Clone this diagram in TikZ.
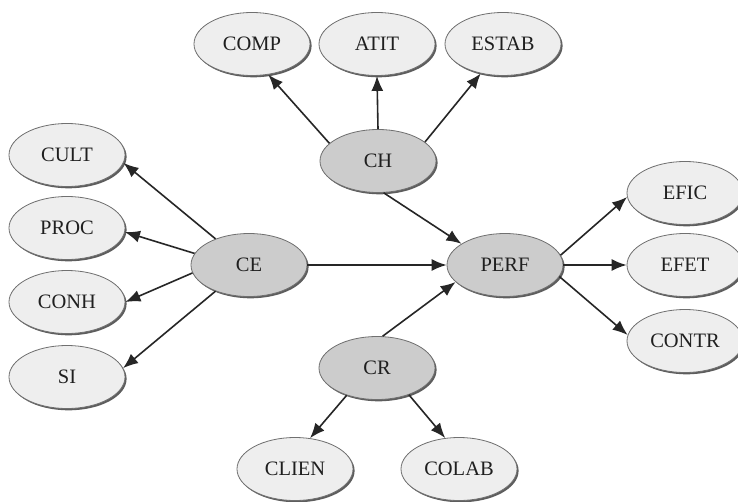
\documentclass[tikz,border=0pt]{standalone}
\usepackage{fontspec}
\setmainfont{Liberation Serif}
\usetikzlibrary{shapes.geometric,arrows.meta,shadows}
\definecolor{lightfill}{HTML}{EEEEEE}
\definecolor{darkfill}{HTML}{CCCCCC}
\definecolor{edgecol}{HTML}{262626}
\definecolor{rimcol}{HTML}{707070}
\tikzset{
  oval/.style={ellipse, draw=rimcol, line width=0.8pt, minimum width=116pt, minimum height=63pt, inner sep=0pt,
    font=\fontsize{20.5}{23}\selectfont, text=black!88,
    drop shadow={shadow xshift=1.6pt, shadow yshift=-1.8pt, fill=black!70, opacity=0.9}},
  leaf/.style={oval, fill=lightfill},
  hub/.style={oval, fill=darkfill},
  arr/.style={draw=edgecol, line width=1.6pt, -{Latex[length=15pt,width=12pt]}}
}
\begin{document}
\begin{tikzpicture}[x=1pt,y=-1pt]
\useasboundingbox[fill=white] (0,0) rectangle (738,501);
\node[leaf] (COMP) at (252,44) {COMP};
\node[leaf] (ATIT) at (377,44) {ATIT};
\node[leaf] (ESTAB) at (503,44) {ESTAB};
\node[hub] (CH) at (378,161) {CH};
\node[leaf] (CULT) at (67,155) {CULT};
\node[leaf] (PROC) at (67,228) {PROC};
\node[leaf] (CONH) at (67,302) {CONH};
\node[leaf] (SI) at (67,377) {SI};
\node[hub] (CE) at (249,265) {CE};
\node[hub] (PERF) at (505,265) {PERF};
\node[leaf] (EFIC) at (685,193) {EFIC};
\node[leaf] (EFET) at (685,265) {EFET};
\node[leaf] (CONTR) at (685,341) {CONTR};
\node[hub] (CR) at (377,368) {CR};
\node[leaf] (CLIEN) at (295,469) {CLIEN};
\node[leaf] (COLAB) at (459,469) {COLAB};

\draw[arr] (CH.160) -- (COMP.-62);
\draw[arr] (CH.north) -- (ATIT.south);
\draw[arr] (CH.22) -- (ESTAB.-127);
\draw[arr] (CH.-80) -- (PERF.154);
\draw[arr] (CE.142) -- (CULT.-8);
\draw[arr] (CE.168) -- (PROC.-4);
\draw[arr] (CE.188) -- (CONH.0);
\draw[arr] (CE.218) -- (SI.9);
\draw[arr] (CE.east) -- (PERF.west);
\draw[arr] (PERF.10) -- (EFIC.184);
\draw[arr] (PERF.east) -- (EFET.west);
\draw[arr] (PERF.-12) -- (CONTR.174);
\draw[arr] (CR.80) -- (PERF.199);
\draw[arr] (CR.222) -- (CLIEN.64);
\draw[arr] (CR.-40) -- (COLAB.114);
\end{tikzpicture}
\end{document}
